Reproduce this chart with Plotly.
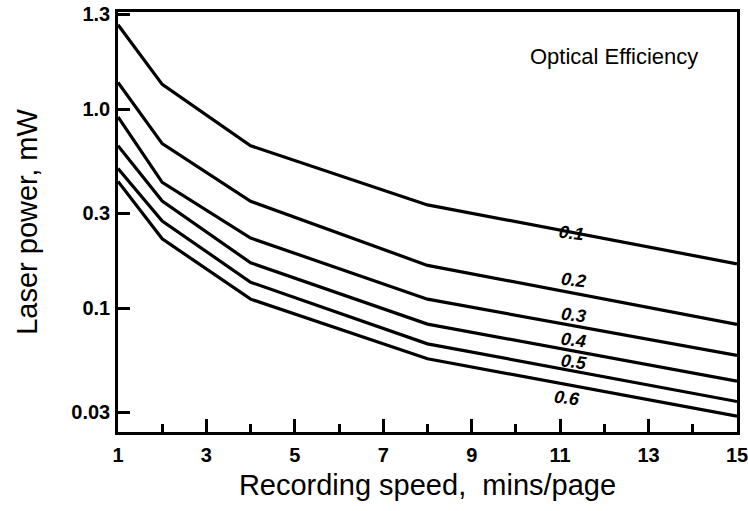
import numpy as np
import plotly.graph_objects as go

# Data
speed = [1, 2, 4, 8, 15]
efficiency_labels = ["0.1", "0.2", "0.3", "0.4", "0.5", "0.6"]
power_01 = [2.65, 1.33, 0.654, 0.33, 0.167]
power_02 = [1.36, 0.67, 0.344, 0.164, 0.083]
power_03 = [0.912, 0.428, 0.225, 0.111, 0.058]
power_04 = [0.654, 0.345, 0.169, 0.0832, 0.043]
power_05 = [0.503, 0.274, 0.135, 0.0662, 0.034]
power_06 = [0.433, 0.223, 0.111, 0.0557, 0.0287]
series = [power_01, power_02, power_03, power_04, power_05, power_06]

x_tickvals = [1, 3, 5, 7, 9, 11, 13, 15]
x_ticktext = ["1", "3", "5", "7", "9", "11", "13", "15"]
x_minor_tickvals = [2, 4, 6, 8, 10, 12, 14]
y_tickvals = [0.03, 0.1, 0.3, 1.0, 3.0]
y_ticktext = ["0.03", "0.1", "0.3", "1.0", "1.3"]

# curve label anchor points (x, y in data units)
label_x = [11.25, 11.3, 11.3, 11.3, 11.32, 11.15]
label_y = [0.239, 0.138, 0.0923, 0.0693, 0.0538, 0.0353]

FONT = "Liberation Sans, Arial, Helvetica, sans-serif"

fig = go.Figure()
for vals in series:
    fig.add_trace(go.Scatter(x=speed, y=vals, mode="lines",
                             line=dict(color="black", width=3.2),
                             showlegend=False, hoverinfo="skip"))

for lx, ly, txt in zip(label_x, label_y, efficiency_labels):
    fig.add_annotation(x=lx, y=np.log10(ly), text="<b><i>" + txt + "</i></b>",
                       showarrow=False, textangle=7,
                       font=dict(family=FONT, size=18, color="black"))

fig.add_annotation(x=0.801, y=0.893, xref="paper", yref="paper",
                   xanchor="center", yanchor="middle",
                   text="Optical Efficiency", showarrow=False,
                   font=dict(family=FONT, size=22, color="black"))

fig.update_layout(
    width=748, height=511,
    margin=dict(l=118, r=11, t=12, b=79),
    paper_bgcolor="white", plot_bgcolor="white",
    font=dict(family=FONT, color="black"),
)
fig.update_xaxes(
    range=[1, 15], showgrid=False, zeroline=False, automargin=False,
    showline=True, linecolor="black", linewidth=2.5, mirror=True,
    ticks="inside", ticklen=13, tickwidth=2.5, tickcolor="black",
    tickvals=x_tickvals, ticktext=x_ticktext,
    tickfont=dict(family=FONT, size=20, color="black", weight="bold"),
    ticklabelstandoff=3, ticklabeloverflow="allow",
    minor=dict(ticks="inside", ticklen=8, tickwidth=2.5, tickcolor="black",
               tickvals=x_minor_tickvals),
    title=dict(text="Recording speed,  mins/page", standoff=10,
               font=dict(family=FONT, size=29, color="black")),
)
fig.update_yaxes(
    type="log", range=[np.log10(0.0239), np.log10(3.07)],
    showgrid=False, zeroline=False, automargin=False,
    showline=True, linecolor="black", linewidth=2.5, mirror=True,
    ticks="inside", ticklen=12, tickwidth=2.5, tickcolor="black",
    tickvals=y_tickvals, ticktext=y_ticktext,
    tickfont=dict(family=FONT, size=20, color="black", weight="bold"),
    ticklabelstandoff=1, ticklabeloverflow="allow",
    title=dict(text="Laser power, mW", standoff=26,
               font=dict(family=FONT, size=29, color="black")),
)

fig.write_html("out.html")
